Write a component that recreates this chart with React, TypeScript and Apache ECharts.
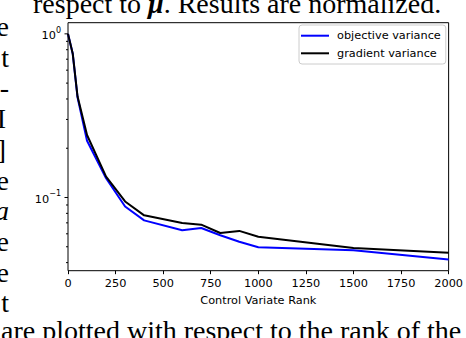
import React, { useEffect, useRef } from 'react';
import * as echarts from 'echarts';

const ranks = [0, 25, 50, 100, 200, 300, 400, 600, 700, 800, 900, 1000, 1500, 2000];
const objectiveVariance = [1.0, 0.755, 0.41, 0.222, 0.131, 0.0881, 0.0725, 0.063, 0.0651, 0.0588, 0.0537, 0.0497, 0.0476, 0.0418];
const gradientVariance = [1.0, 0.755, 0.415, 0.241, 0.134, 0.0946, 0.0778, 0.0699, 0.0682, 0.0607, 0.0625, 0.0575, 0.0492, 0.0459];
const seriesNames = ['objective variance', 'gradient variance'];
const xAxisTitle = 'Control Variate Rank';
const yMajorTicks = [0.1, 1];
const yTickBase = ['10', '10'];
const yTickExp = ['\u22121', '0'];
const yMinorTicks = [0.04, 0.05, 0.06, 0.07, 0.08, 0.09, 0.2, 0.3, 0.4, 0.5, 0.6, 0.7, 0.8, 0.9];
const captionTop = ['respect to ', '\u03BC', '. Results are normalized.'];
const leftColumnLetters = ['e', 't', '-', 'I', ']', 'e', 'a', 'e', 'e', 't'];
const captionBottom = 'are plotted with respect to the rank of the';

const SANS = '"DejaVu Sans", sans-serif';
const SERIF = '"Liberation Serif", "Times New Roman", serif';
const FS = 11.3;

export default function App() {
  const ref = useRef<HTMLDivElement>(null);
  useEffect(() => {
    document.body.style.margin = '0';
    const chart = echarts.init(ref.current!, null, { renderer: 'svg' });

    const tickSeries = (vals: number[], len: number) => ({
      type: 'custom',
      silent: true,
      clip: false,
      coordinateSystem: 'cartesian2d',
      xAxisIndex: 0,
      yAxisIndex: 0,
      data: vals.map((v) => [0, v]),
      encode: { x: 0, y: 1 },
      z: 10,
      renderItem: (_p: any, api: any) => {
        const pt = api.coord([api.value(0), api.value(1)]);
        return {
          type: 'line',
          shape: { x1: pt[0] - len, y1: pt[1], x2: pt[0], y2: pt[1] },
          style: { stroke: '#000', lineWidth: 1 },
        };
      },
    });

    const graphics: any[] = [];
    graphics.push({
      type: 'text',
      x: 33,
      y: 3.5,
      silent: true,
      style: {
        text: `{n|${captionTop[0]}}{m|${captionTop[1]}}{n|${captionTop[2]}}`,
        rich: {
          n: { fontFamily: SERIF, fontSize: 28, fill: '#000' },
          m: { fontFamily: SERIF, fontSize: 28, fontStyle: 'italic', fontWeight: 'bold', fill: '#000' },
        },
        align: 'left',
        verticalAlign: 'middle',
      },
    });
    leftColumnLetters.forEach((ch, i) => {
      const narrow = ch === 'I' || ch === ']';
      graphics.push({
        type: 'text',
        x: narrow ? 6 : 9,
        y: 36 + 30.7 * i - 9.45,
        silent: true,
        style: {
          text: ch,
          fontFamily: SERIF,
          fontSize: 28,
          fontStyle: i === 6 ? 'italic' : 'normal',
          fill: '#000',
          align: 'right',
          verticalAlign: 'middle',
        },
      });
    });
    graphics.push({
      type: 'text',
      x: 1,
      y: 340 - 9.45,
      silent: true,
      style: {
        text: captionBottom,
        fontFamily: SERIF,
        fontSize: 28,
        fill: '#000',
        align: 'left',
        verticalAlign: 'middle',
      },
    });

    chart.setOption({
      animation: false,
      backgroundColor: '#fff',
      grid: {
        left: 68,
        right: 15,
        top: 22.7,
        bottom: 67.3,
        show: true,
        borderColor: '#000',
        borderWidth: 1,
        backgroundColor: 'transparent',
      },
      legend: {
        data: seriesNames.map((n) => ({ name: n, icon: 'rect' })),
        orient: 'vertical',
        left: 299,
        top: 25,
        padding: [4.7, 5, 4.7, 2],
        itemGap: 5.6,
        itemWidth: 28,
        itemHeight: 2,
        borderColor: '#cccccc',
        borderWidth: 1,
        borderRadius: 3,
        backgroundColor: 'rgba(255,255,255,0.8)',
        textStyle: { fontFamily: SANS, fontSize: FS, lineHeight: 12, color: '#000', padding: [0, 0, 0, 3] },
        selectedMode: false,
      },
      xAxis: {
        type: 'value',
        min: 0,
        max: 2000,
        interval: 250,
        name: xAxisTitle,
        nameLocation: 'middle',
        nameGap: 24.5,
        nameTextStyle: { fontFamily: SANS, fontSize: FS, color: '#000' },
        axisLine: { show: false },
        axisTick: { show: true, length: 3.5, lineStyle: { color: '#000', width: 1 } },
        axisLabel: {
          fontFamily: SANS,
          fontSize: FS,
          color: '#000',
          margin: 7,
          formatter: (v: number) => String(v),
        },
        splitLine: { show: false },
      },
      yAxis: {
        type: 'log',
        logBase: 10,
        min: 0.0357,
        max: 1.17,
        axisLine: { show: false },
        axisTick: { show: false },
        axisLabel: {
          fontFamily: SANS,
          fontSize: FS,
          color: '#000',
          margin: 7,
          showMinLabel: false,
          showMaxLabel: false,
          formatter: (v: number) => {
            const idx = yMajorTicks.findIndex((t) => Math.abs(Math.log10(t) - Math.log10(v)) < 1e-6);
            return idx >= 0 ? `{b|${yTickBase[idx]}}{s|${yTickExp[idx]}}` : '';
          },
          rich: {
            b: { fontFamily: SANS, fontSize: FS, lineHeight: 15, verticalAlign: 'bottom', color: '#000' },
            s: { fontFamily: SANS, fontSize: 8, lineHeight: 9, verticalAlign: 'top', color: '#000' },
          },
        },
        splitLine: { show: false },
        minorTick: { show: false },
      },
      series: [
        {
          name: seriesNames[0],
          type: 'line',
          data: ranks.map((r, i) => [r, objectiveVariance[i]]),
          symbol: 'none',
          lineStyle: { color: '#0000ff', width: 2 },
          itemStyle: { color: '#0000ff' },
          z: 3,
        },
        {
          name: seriesNames[1],
          type: 'line',
          data: ranks.map((r, i) => [r, gradientVariance[i]]),
          symbol: 'none',
          lineStyle: { color: '#000000', width: 2 },
          itemStyle: { color: '#000000' },
          z: 4,
        },
        tickSeries(yMajorTicks, 3.5),
        tickSeries(yMinorTicks, 2),
      ],
      graphic: graphics,
    });
    return () => chart.dispose();
  }, []);
  return (
    <div
      ref={ref}
      style={{ position: 'absolute', left: 0, top: 0, width: 466, height: 338 }}
    />
  );
}
